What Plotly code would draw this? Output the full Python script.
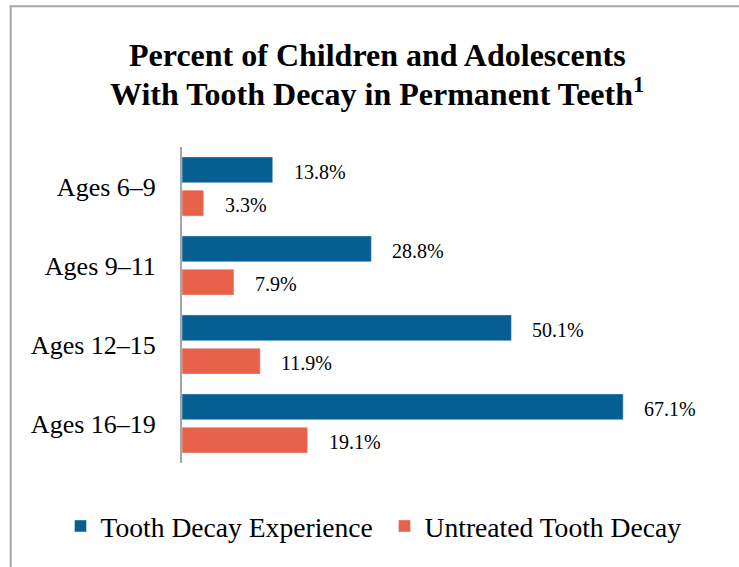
import plotly.graph_objects as go

categories = ["Ages 6–9", "Ages 9–11", "Ages 12–15", "Ages 16–19"]
experience = [13.8, 28.8, 50.1, 67.1]
untreated = [3.3, 7.9, 11.9, 19.1]
series_names = ["Tooth Decay Experience", "Untreated Tooth Decay"]
title_lines = ["Percent of Children and Adolescents", "With Tooth Decay in Permanent Teeth<sup>1</sup>"]

BLUE = "#065f92"
ORANGE = "#e8624a"
SERIF = "Liberation Serif, Times New Roman, serif"

W, H = 739, 567
L, R, T, B = 182, 31, 147, 104
plot_h = H - T - B
plot_w = W - L - R

fig = go.Figure()
fig.add_trace(go.Bar(y=categories, x=experience, orientation="h", name=series_names[0],
                     marker=dict(color=BLUE), hoverinfo="x+y"))
fig.add_trace(go.Bar(y=categories, x=untreated, orientation="h", name=series_names[1],
                     marker=dict(color=ORANGE), hoverinfo="x+y"))

annotations = []
for cat, v in zip(categories, experience):
    annotations.append(dict(x=v, y=cat, xref="x", yref="y", text=f"{v:.1f}%", showarrow=False,
                            xanchor="left", yanchor="middle", xshift=19, yshift=15,
                            font=dict(family=SERIF, size=20, color="black")))
for cat, v in zip(categories, untreated):
    annotations.append(dict(x=v, y=cat, xref="x", yref="y", text=f"{v:.1f}%", showarrow=False,
                            xanchor="left", yanchor="middle", xshift=19, yshift=-18,
                            font=dict(family=SERIF, size=20, color="black")))

def py2paper(py):
    return (H - B - py) / plot_h

def px2paper(px):
    return (px - L) / plot_w

for line, cy in zip(title_lines, [55, 92]):
    annotations.append(dict(x=px2paper(377), y=py2paper(cy), xref="paper", yref="paper", text=f"<b>{line}</b>",
                            showarrow=False, xanchor="center", yanchor="middle",
                            font=dict(family=SERIF, size=32, color="black")))

fig.update_layout(
    width=W, height=H,
    margin=dict(l=L, r=R, t=T, b=B),
    paper_bgcolor="white", plot_bgcolor="white",
    barmode="group", bargap=0.158, bargroupgap=0.22,
    showlegend=True,
    legend=dict(orientation="h", x=px2paper(60.5), xanchor="left",
                y=py2paper(526), yanchor="middle",
                entrywidth=279, entrywidthmode="pixels",
                font=dict(family=SERIF, size=27.6, color="black"),
                traceorder="normal", itemclick=False, itemdoubleclick=False),
    annotations=annotations,
    shapes=[dict(type="rect", xref="paper", yref="paper",
                 x0=px2paper(10.7), x1=1.5,
                 y0=-1.0, y1=py2paper(6.3),
                 line=dict(color="#a6a6a6", width=2), fillcolor="rgba(0,0,0,0)", layer="below")],
    xaxis=dict(range=[0, 80], visible=False, showgrid=False, zeroline=False),
    yaxis=dict(autorange="reversed", showline=True, linecolor="#a6a6a6", linewidth=2,
               ticks="", ticklabelstandoff=19, showgrid=False, zeroline=False,
               tickfont=dict(family=SERIF, size=26, color="black")),
)

fig.write_html("out.html")
